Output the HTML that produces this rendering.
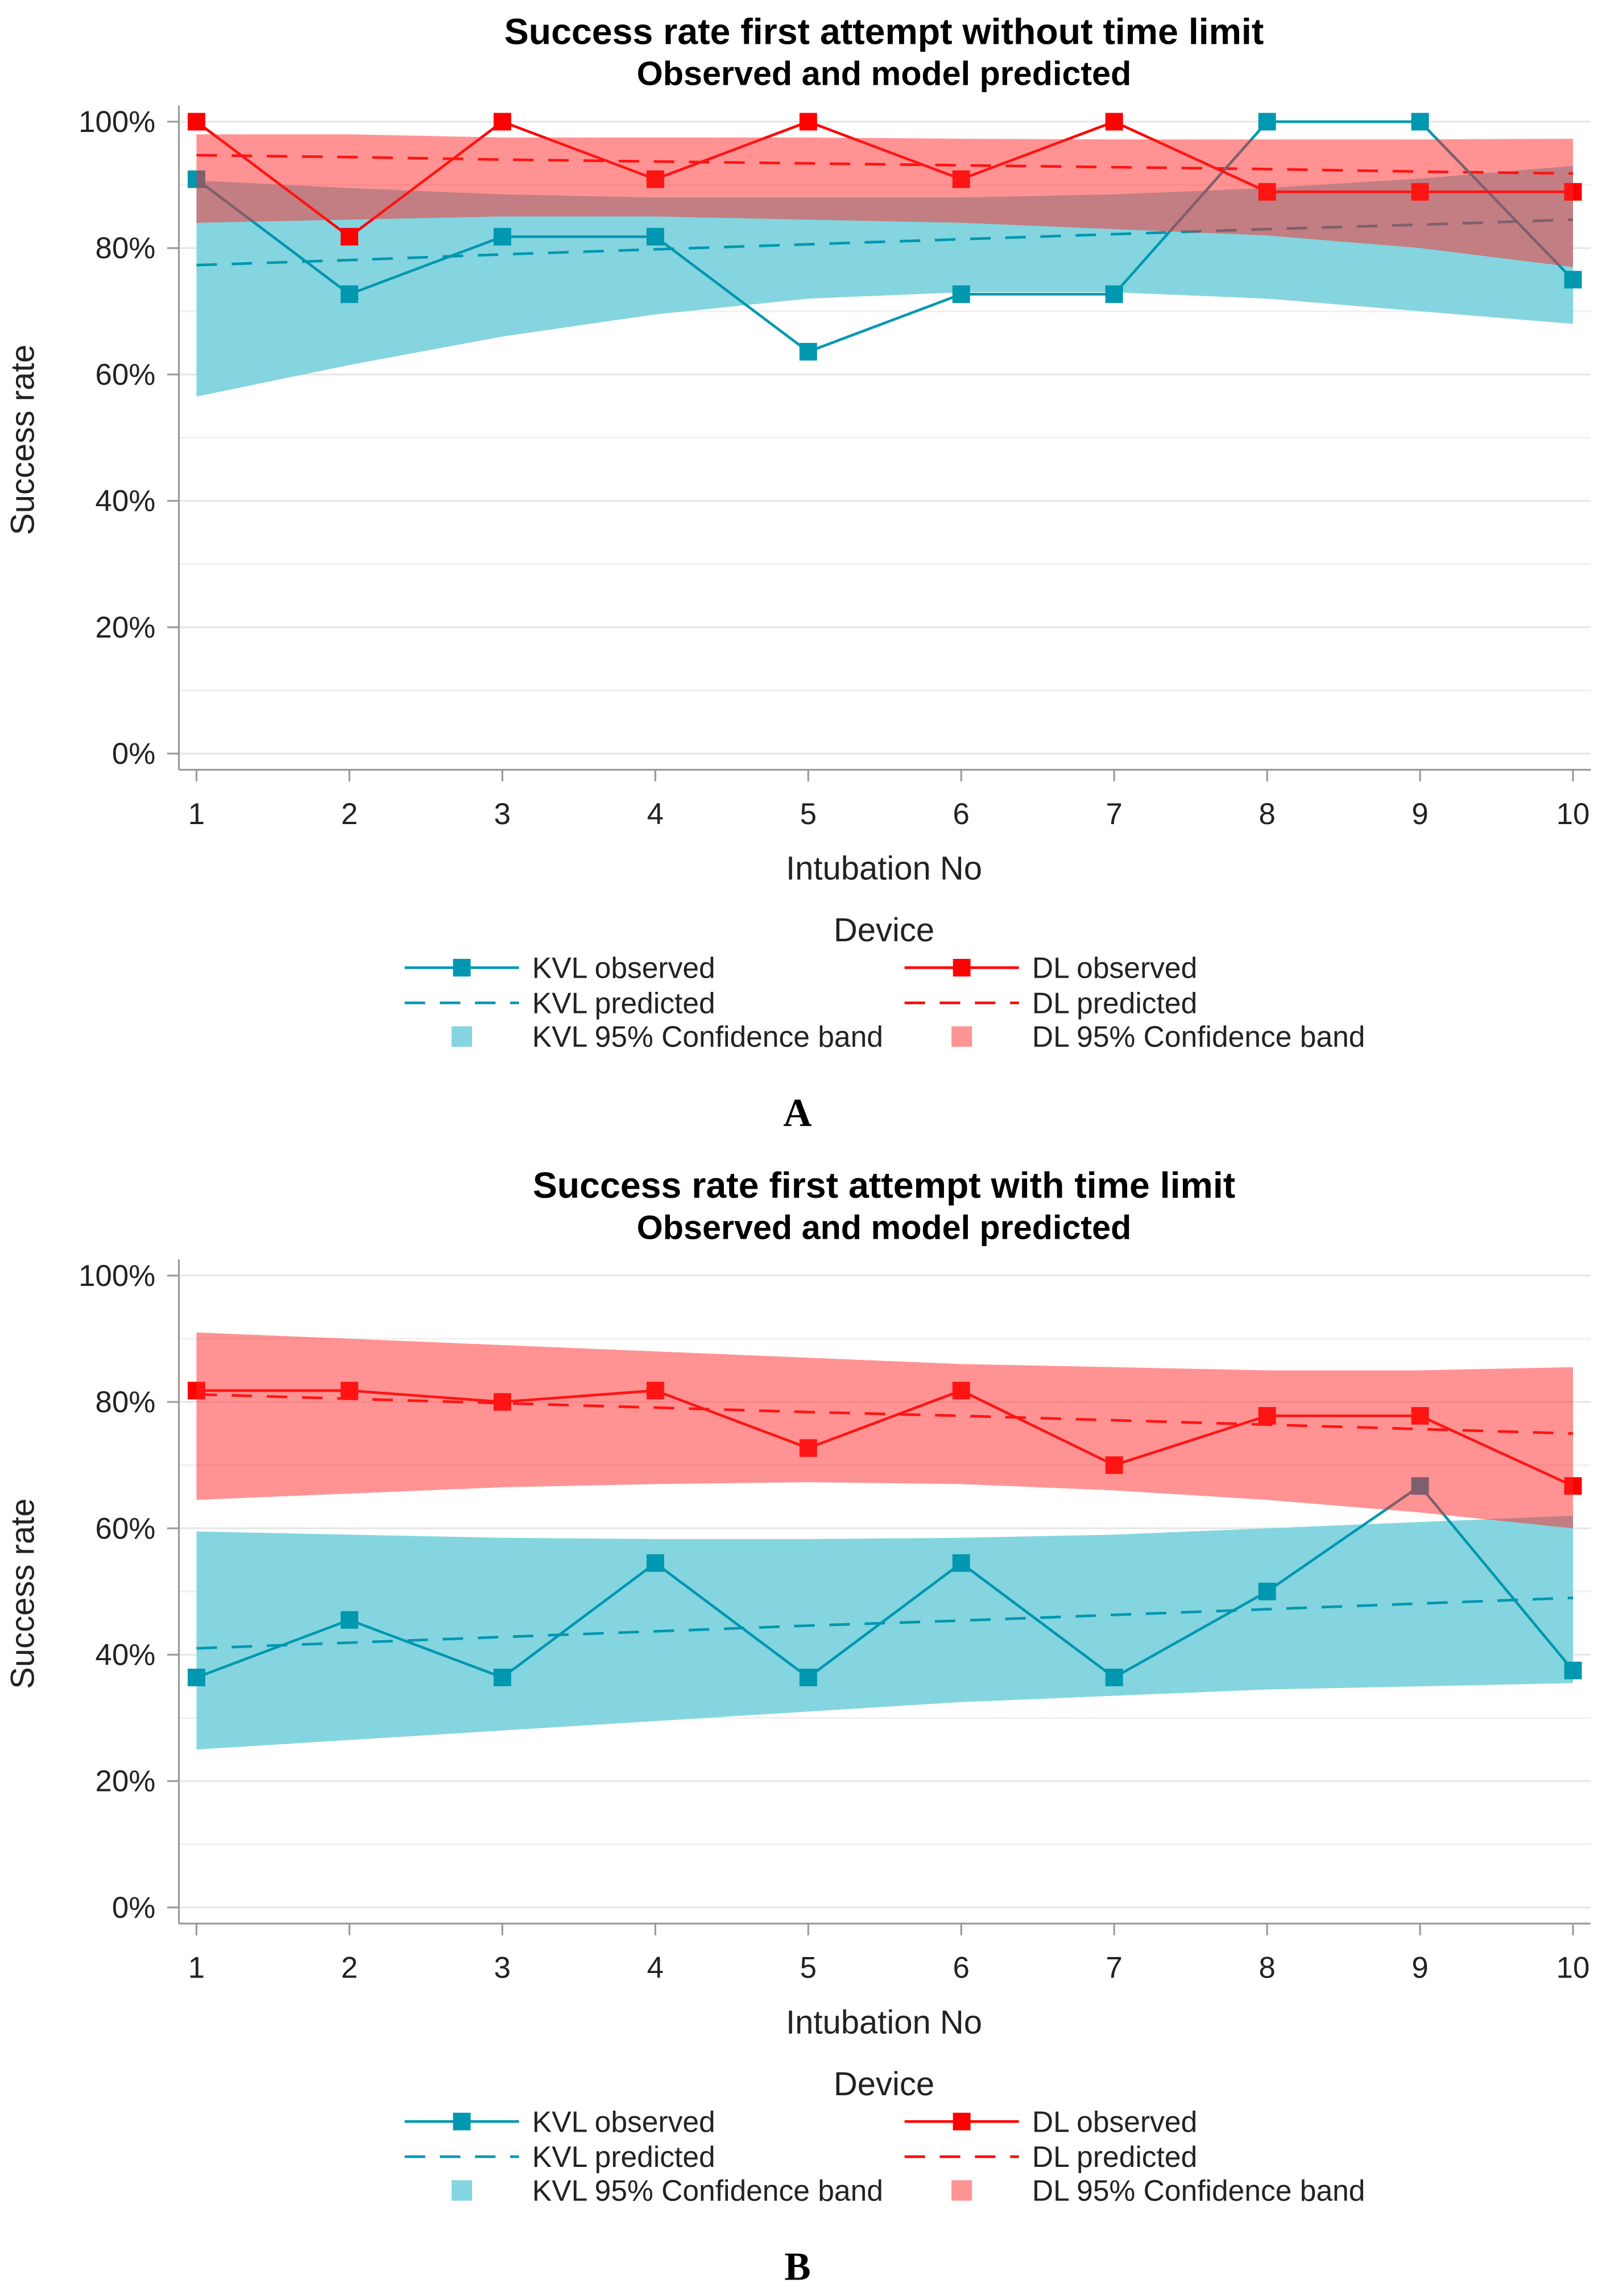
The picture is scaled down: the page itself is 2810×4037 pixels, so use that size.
<!DOCTYPE html>
<html><head><meta charset="utf-8"><style>
html,body{margin:0;padding:0;background:#fff;}
svg{display:block;font-family:"Liberation Sans",Arial,sans-serif;}
</style></head><body>
<svg id="chart" width="2810" height="4037" viewBox="0 0 1090 1566" xmlns="http://www.w3.org/2000/svg">
<rect width="1090" height="1566" fill="#fff"/>
</svg>
<script>
const xCats = [1,2,3,4,5,6,7,8,9,10];
const yTicks = [0,20,40,60,80,100];
const yTickLabels = ["0%","20%","40%","60%","80%","100%"];
// Panel A
const kvlObsA = [90.9,72.7,81.8,81.8,63.6,72.7,72.7,100,100,75];
const dlObsA = [100,81.8,100,90.9,100,90.9,100,88.9,88.9,88.9];
const kvlPredA = [77.3,78.1,79.0,79.8,80.6,81.4,82.2,83.0,83.7,84.5];
const dlPredA = [94.7,94.4,94.0,93.7,93.4,93.1,92.8,92.5,92.1,91.8];
const kvlLoA = [56.5,61.5,66,69.5,72,73,73,72,70,68];
const kvlHiA = [90.7,89.5,88.5,88,88,88,88.5,89.5,91,93];
const dlLoA = [84,84.5,85,85,84.5,84,83,82,80,77];
const dlHiA = [98,98,97.5,97.5,97.5,97.3,97.2,97.2,97.2,97.3];
// Panel B
const kvlObsB = [36.4,45.5,36.4,54.5,36.4,54.5,36.4,50,66.7,37.5];
const dlObsB = [81.8,81.8,80,81.8,72.7,81.8,70,77.8,77.8,66.7];
const kvlPredB = [41,41.9,42.8,43.7,44.6,45.4,46.3,47.2,48.1,49];
const dlPredB = [81.2,80.5,79.8,79.1,78.4,77.8,77.1,76.4,75.7,75];
const kvlLoB = [25,26.5,28,29.5,31,32.5,33.5,34.5,35,35.5];
const kvlHiB = [59.5,59,58.5,58.3,58.3,58.5,59,60,61,62];
const dlLoB = [64.5,65.5,66.5,67,67.3,67,66,64.5,62.5,60];
const dlHiB = [91,90,89,88,87,86,85.5,85,85,85.5];

const NS="http://www.w3.org/2000/svg";
const svg=document.getElementById('chart');
function mk(tag,attrs,parent){const e=document.createElementNS(NS,tag);for(const k in attrs)e.setAttribute(k,attrs[k]);(parent||svg).appendChild(e);return e;}
const CY="#0097b0", RD="#ff0000";

function panel(off,id,title,kvlObs,dlObs,kvlPred,dlPred,kvlLo,kvlHi,dlLo,dlHi,letter){
  const g=mk('g',{});
  
  
  const xs=v=>134+(v-1)*104.33;
  const ys=v=>off+514-v*4.31;
  let t=mk('text',{x:603,y:off+30,'text-anchor':'middle','font-size':25,'font-weight':'bold',fill:'#000'},g);t.textContent=title;
  
  t=mk('text',{x:603,y:off+58,'text-anchor':'middle','font-size':23,'font-weight':'bold',fill:'#000'},g);t.textContent="Observed and model predicted";
  
  for(let v=0;v<=100;v+=10){const l=mk('line',{x1:122,x2:1085,y1:ys(v),y2:ys(v),stroke:v%20===0?'#e6e6e6':'#f0f0f0','stroke-width':1.2},g);
    }
  let a=mk('line',{x1:122,x2:122,y1:off+72,y2:off+525,stroke:'#999','stroke-width':1.2},g);
  
  a=mk('line',{x1:122,x2:1085,y1:off+525,y2:off+525,stroke:'#999','stroke-width':1.2},g);
  
  yTicks.forEach((v,i)=>{mk('line',{x1:114,x2:122,y1:ys(v),y2:ys(v),stroke:'#999','stroke-width':1.2},g);
    const tt=mk('text',{x:106,y:ys(v)+7,'text-anchor':'end','font-size':20.5,fill:'#222'},g);tt.textContent=yTickLabels[i];
    });
  xCats.forEach(c=>{mk('line',{x1:xs(c),x2:xs(c),y1:off+525,y2:off+533,stroke:'#999','stroke-width':1.2},g);
    const tt=mk('text',{x:xs(c),y:off+562,'text-anchor':'middle','font-size':20.5,fill:'#222'},g);tt.textContent=c;
    });
  t=mk('text',{x:603,y:off+600,'text-anchor':'middle','font-size':22.5,fill:'#222'},g);t.textContent="Intubation No";
  
  t=mk('text',{x:0,y:0,'text-anchor':'middle','font-size':22.5,fill:'#222',transform:`translate(23,${off+300}) rotate(-90)`},g);t.textContent="Success rate";
  
  const bandPts=(lo,hi)=>xCats.map((c,i)=>xs(c)+','+ys(hi[i])).join(' ')+' '+xCats.map((c,i)=>xs(c)+','+ys(lo[i])).reverse().join(' ');
  const kb=mk('polygon',{points:bandPts(kvlLo,kvlHi),fill:'rgb(132,213,223)'},g);
  
  const line=(arr,col,dash,name)=>{const p=mk('polyline',{points:xCats.map((c,i)=>xs(c)+','+ys(arr[i])).join(' '),fill:'none',stroke:col,'stroke-width':1.8,'stroke-dasharray':dash||'none'},g);
    };
  line(kvlPred,CY,'14 10','kvl-predicted-line');
  line(dlPred,RD,'14 10','dl-predicted-line');
  line(kvlObs,CY,null,'kvl-observed-line');
  line(dlObs,RD,null,'dl-observed-line');
  xCats.forEach((c,i)=>{const r=mk('rect',{x:xs(c)-6,y:ys(kvlObs[i])-6,width:12,height:12,fill:CY},g);
    
    const r2=mk('rect',{x:xs(c)-6,y:ys(dlObs[i])-6,width:12,height:12,fill:RD},g);
    });
  const db=mk('polygon',{points:bandPts(dlLo,dlHi),fill:'rgb(255,40,40)','fill-opacity':0.5},g);
  
  const lg=mk('g',{},g);
  
  t=mk('text',{x:603,y:off+642,'text-anchor':'middle','font-size':22.5,fill:'#222'},lg);t.textContent="Device";
  
  const entry=(x0,y,col,kind,label,name)=>{
    const eg=mk('g',{},lg);
    if(kind==='obs'){mk('line',{x1:x0,x2:x0+78,y1:y,y2:y,stroke:col,'stroke-width':1.8},eg);mk('rect',{x:x0+33,y:y-6,width:12,height:12,fill:col},eg);}
    else if(kind==='pred'){mk('line',{x1:x0,x2:x0+78,y1:y,y2:y,stroke:col,'stroke-width':1.8,'stroke-dasharray':'14 10'},eg);}
    else{mk('rect',{x:x0+32,y:y-7,width:14,height:14,fill:col},eg);}
    const tx=mk('text',{x:x0+87,y:y+7,'font-size':20,fill:'#222'},eg);tx.textContent=label;};
  entry(276,off+660,CY,'obs','KVL observed','legend-kvl-observed');
  entry(276,off+684,CY,'pred','KVL predicted','legend-kvl-predicted');
  entry(276,off+707,'rgb(132,213,223)','band','KVL 95% Confidence band','legend-kvl-band');
  entry(617,off+660,RD,'obs','DL observed','legend-dl-observed');
  entry(617,off+684,RD,'pred','DL predicted','legend-dl-predicted');
  entry(617,off+707,'rgb(255,148,148)','band','DL 95% Confidence band','legend-dl-band');
  t=mk('text',{x:544,y:off+768,'text-anchor':'middle','font-size':27,'font-weight':'bold','font-family':'"Liberation Serif",serif',fill:'#000'},g);t.textContent=letter;
  
}
panel(0,'a',"Success rate first attempt without time limit",kvlObsA,dlObsA,kvlPredA,dlPredA,kvlLoA,kvlHiA,dlLoA,dlHiA,"A");
panel(787,'b',"Success rate first attempt with time limit",kvlObsB,dlObsB,kvlPredB,dlPredB,kvlLoB,kvlHiB,dlLoB,dlHiB,"B");
</script>
</body></html>
